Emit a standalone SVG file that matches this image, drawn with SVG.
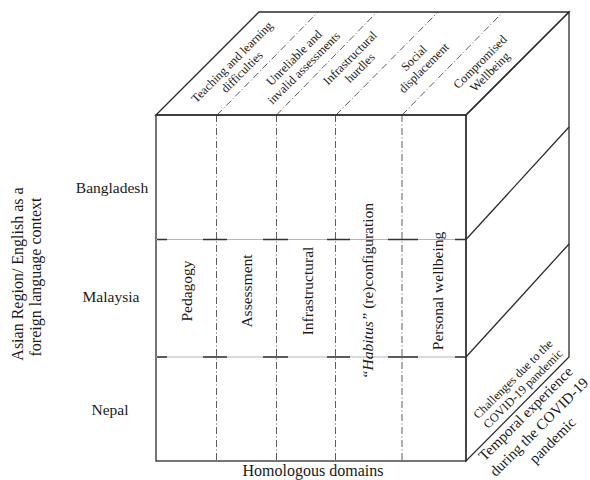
<svg xmlns="http://www.w3.org/2000/svg" width="590" height="480" viewBox="0 0 590 480">
<style>
.edge{fill:none;stroke:#2b2b2b;stroke-width:1.3}
.dd{fill:none;stroke:#333;stroke-width:0.8;stroke-dasharray:7 2.5 1 2.5}
.hg{fill:none;stroke:#b5b5b5;stroke-width:1.2}
.hd{fill:none;stroke:#333;stroke-width:1.6}
.t{font-family:"Liberation Serif","Times New Roman",serif;fill:#1a1a1a}
.s12{font-size:12.3px}
.s15{font-size:15.5px}
.s16{font-size:16px}
</style>
<rect width="590" height="480" fill="#fff"/>
<g id="cube">
  <polygon class="edge" points="156,115 259,12 569,12 466,115"/>
  <polygon class="edge" points="466,115 569,12 569,357 466,461"/>
  <rect class="edge" x="156" y="115" width="310" height="346"/>
</g>
<g id="connectors">
  <line class="dd" x1="217" y1="115" x2="318" y2="12"/>
  <line class="dd" x1="276.5" y1="115" x2="377" y2="12"/>
  <line class="dd" x1="336" y1="115" x2="438" y2="12"/>
  <line class="dd" x1="402" y1="115" x2="503" y2="12"/>
  <line class="dd" x1="216.5" y1="115" x2="216.5" y2="461"/>
  <line class="dd" x1="276.5" y1="115" x2="276.5" y2="461"/>
  <line class="dd" x1="335.5" y1="115" x2="335.5" y2="461"/>
  <line class="dd" x1="402" y1="115" x2="402" y2="461"/>
  <line class="hg" x1="156" y1="239.5" x2="466" y2="239.5"/>
  <line class="hg" x1="156" y1="357" x2="466" y2="357"/>
  <path class="hd" d="M157 239.5H167M203 239.5H227M263 239.5H288M327 239.5H350M388 239.5H418M455 239.5H466"/>
  <path class="hd" d="M157 357H167M203 357H227M263 357H288M327 357H350M388 357H418M455 357H466"/>
  <line class="edge" x1="466" y1="239.5" x2="569" y2="127"/>
  <line class="edge" x1="466" y1="357" x2="569" y2="244"/>
</g>
<g id="top-labels" class="t s12" text-anchor="middle">
  <text transform="translate(237,67) rotate(-45)"><tspan x="0" y="-3">Teaching and learning</tspan><tspan x="0" y="11">difficulties</tspan></text>
  <text transform="translate(299,63) rotate(-45)"><tspan x="0" y="-3">Unreliable and</tspan><tspan x="0" y="11">invalid assessments</tspan></text>
  <text transform="translate(355,63) rotate(-45)"><tspan x="0" y="-3">Infrastructural</tspan><tspan x="0" y="11">hurdles</tspan></text>
  <text transform="translate(419,63) rotate(-45)"><tspan x="0" y="-3">Social</tspan><tspan x="0" y="11">displacement</tspan></text>
  <text transform="translate(485,67) rotate(-45)"><tspan x="0" y="-3">Compromised</tspan><tspan x="0" y="11">Wellbeing</tspan></text>
</g>
<g id="domain-labels" class="t s15" text-anchor="middle">
  <text transform="translate(187,291) rotate(-90)" y="5">Pedagogy</text>
  <text transform="translate(247,291) rotate(-90)" y="5">Assessment</text>
  <text transform="translate(308,291) rotate(-90)" y="5">Infrastructural</text>
  <text transform="translate(368,291) rotate(-90)" y="5"><tspan font-style="italic">“Habitus”</tspan> (re)configuration</text>
  <text transform="translate(438,291) rotate(-90)" y="5">Personal wellbeing</text>
</g>
<g id="row-labels" class="t s15" text-anchor="middle">
  <text x="112" y="193">Bangladesh</text>
  <text x="111" y="302">Malaysia</text>
  <text x="110" y="415">Nepal</text>
</g>
<g id="axis-left" class="t s16" text-anchor="middle">
  <text transform="translate(18,274) rotate(-90)" y="5">Asian Region/ English as a</text>
  <text transform="translate(36,277) rotate(-90)" y="5">foreign language context</text>
</g>
<g id="axis-bottom" class="t s16" text-anchor="middle">
  <text x="313" y="476">Homologous domains</text>
</g>
<g id="axis-right" class="t" text-anchor="middle">
  <text class="s12" transform="translate(518,384) rotate(-45)"><tspan x="0" y="-3">Challenges due to the</tspan><tspan x="0" y="11">COVID-19 pandemic</tspan></text>
  <text transform="translate(539,427) rotate(-45)" font-size="15px"><tspan x="0" y="-14">Temporal experience</tspan><tspan x="0" y="5">during the COVID-19</tspan><tspan x="0" y="24">pandemic</tspan></text>
</g>
</svg>
